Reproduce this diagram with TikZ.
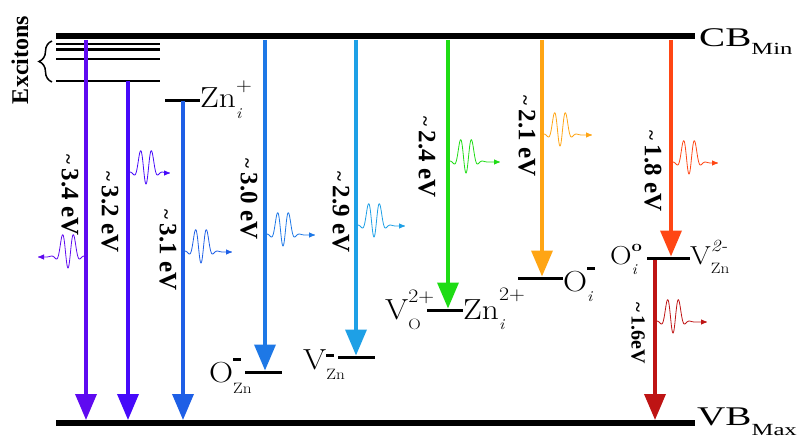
\documentclass[tikz,border=0pt]{standalone}
\usepackage{fontspec}
\usepackage{graphicx}
\newfontfamily\lbfont{Liberation Serif}
\usetikzlibrary{arrows.meta,decorations.pathreplacing}

\definecolor{c34}{RGB}{95,10,240}
\definecolor{c32}{RGB}{70,10,250}
\definecolor{c31}{RGB}{30,95,230}
\definecolor{c30}{RGB}{30,120,230}
\definecolor{c29}{RGB}{30,160,230}
\definecolor{c24}{RGB}{30,220,20}
\definecolor{c21}{RGB}{255,165,20}
\definecolor{c18}{RGB}{255,70,20}
\definecolor{c16}{RGB}{190,20,20}

\newcommand\bigf{\fontsize{29}{29}\selectfont}
\newcommand\midf{\fontsize{26}{26}\selectfont}
\newcommand\supf{\fontsize{19}{19}\selectfont}
\newcommand\subf{\fontsize{15}{15}\selectfont}
\newcommand\evf{\lbfont\bfseries\fontsize{25}{25}\selectfont}
\newcommand\tl{{\fontsize{19}{19}\selectfont\textasciitilde}\,}
\newcommand\chg{\rule{7pt}{2.6pt}}
\newlength\chemw
% base, sup, sub, sup raise, sub lower
\newcommand\chem[5]{\scalebox{1.15}[1]{#1\sbox0{#2}\sbox2{#3}%
  \setlength\chemw{\wd0}\ifdim\wd2>\chemw\setlength\chemw{\wd2}\fi
  \rlap{\raisebox{#4}{\usebox0}}\rlap{\raisebox{-#5}{\usebox2}}\hspace{\chemw}}}
\newcommand\wave[5]{%
  \draw[#3, line width=0.8pt, -{Triangle[length=6pt,width=5pt]}, shift={(#1,#2)}, xscale=#4]
    plot[domain=0:#5, samples=200, smooth] (\x,{-22*exp(-((\x-18)/9)^2)*(sin(360*(\x-9)/12)+0.5)});}

\begin{document}
\begin{tikzpicture}[x=1pt,y=-1pt,
  band/.style={line width=6pt},
  exc/.style={line width=2.2pt},
  lvl/.style={line width=3pt},
  trans/.style={line width=3.6pt,-{Triangle[length=26pt,width=21pt]}},
  elab/.style={rotate=-90,font=\evf,inner sep=0pt},
  dlab/.style={anchor=base west,inner sep=0pt,font=\bigf},
]
\useasboundingbox (0,0) rectangle (797,441);

% bands
\coordinate (cbL) at (56,36.5); \coordinate (cbR) at (695,36.5);
\coordinate (vbL) at (56,423);  \coordinate (vbR) at (695,423);
\draw[band] (cbL) -- (cbR);
\draw[band] (vbL) -- (vbR);
\node[anchor=base west,inner sep=0pt] (cb) at (699,47)
  {\scalebox{1.45}[1]{\lbfont\fontsize{27}{27}\selectfont CB\raisebox{-8pt}{\fontsize{17}{17}\selectfont Min}}};
\node[anchor=base west,inner sep=0pt] (vb) at (697,425)
  {\scalebox{1.45}[1]{\lbfont\fontsize{27}{27}\selectfont VB\raisebox{-10pt}{\fontsize{17}{17}\selectfont Max}}};

% excitons
\foreach \n/\yy in {a/44,b/49.5,c/59,d/81}{
  \coordinate (ex\n L) at (56,\yy); \coordinate (ex\n R) at (160,\yy);
  \draw[exc] (ex\n L) -- (ex\n R);
}
\coordinate (brB) at (52,82); \coordinate (brT) at (52,41);
\draw[line width=1.5pt,decorate,decoration={brace,amplitude=13pt}] (brB) -- (brT);
\node[rotate=90,font=\lbfont\bfseries\fontsize{24}{24}\selectfont,inner sep=0pt] (exl) at (20,60) {Excitons};

% defect levels
\coordinate (zL) at (165,101); \coordinate (zR) at (200,101);
\draw[lvl] (zL) -- (zR);
\node[dlab] (zn) at (200,108) {\chem{Zn}{\supf +}{\subf\itshape i}{17pt}{11pt}};

\coordinate (ozL) at (245,372); \coordinate (ozR) at (282,372);
\draw[lvl] (ozL) -- (ozR);
\node[dlab] (oz) at (209,382) {\chem{O}{\chg}{\subf Zn}{21pt}{11pt}};

\coordinate (vzL) at (338,357); \coordinate (vzR) at (375,357);
\draw[lvl] (vzL) -- (vzR);
\node[dlab] (vz) at (303,369) {\chem{V}{\chg}{\subf Zn}{12pt}{10pt}};

\coordinate (voL) at (427,310); \coordinate (voR) at (463,310);
\draw[lvl] (voL) -- (voR);
\node[dlab] (vo) at (385,319) {\chem{V}{\supf 2+}{\subf O}{17pt}{10pt}};
\node[dlab] (zn2) at (463,319) {\chem{Zn}{\supf 2+}{\subf\itshape i}{19pt}{10pt}};

\coordinate (oiL) at (518,278); \coordinate (oiR) at (563,278);
\draw[lvl] (oiL) -- (oiR);
\node[dlab] (oi) at (563,291) {\chem{O}{\chg}{\subf\itshape i}{21pt}{10pt}};

\coordinate (dpL) at (647,258); \coordinate (dpR) at (690,258);
\draw[lvl] (dpL) -- (dpR);
\node[dlab,font=\midf] (oi0) at (610,264) {\chem{O}{\fontsize{16}{16}\selectfont\bfseries o}{\subf\itshape i}{13pt}{10pt}};
\node[dlab,font=\midf] (vz2) at (690,264) {\chem{V}{\fontsize{17}{17}\selectfont\itshape 2-}{\subf Zn}{13pt}{9pt}};

% transitions
\coordinate (s1) at (86,40);   \coordinate (e1) at (86,420);
\coordinate (s2) at (128,81);  \coordinate (e2) at (128,420);
\coordinate (s3) at (183,101); \coordinate (e3) at (183,420);
\coordinate (s4) at (265,40);  \coordinate (e4) at (265,370.5);
\coordinate (s5) at (356,40);  \coordinate (e5) at (356,355.5);
\coordinate (s6) at (448,40);  \coordinate (e6) at (448,308.5);
\coordinate (s7) at (542,40);  \coordinate (e7) at (542,276.5);
\coordinate (s8) at (671,40);  \coordinate (e8) at (671,256.5);
\coordinate (s9) at (655,259.5); \coordinate (e9) at (655,420);
\draw[trans,c34] (s1) -- (e1);
\draw[trans,c32] (s2) -- (e2);
\draw[trans,c31] (s3) -- (e3);
\draw[trans,c30] (s4) -- (e4);
\draw[trans,c29] (s5) -- (e5);
\draw[trans,c24] (s6) -- (e6);
\draw[trans,c21] (s7) -- (e7);
\draw[trans,c18] (s8) -- (e8);
\draw[trans,c16] (s9) -- (e9);

% energy labels
\node[elab] (l1) at (70,195)  {\tl 3.4 eV};
\node[elab] (l2) at (110,212) {\tl 3.2 eV};
\node[elab] (l3) at (168,250) {\tl 3.1 eV};
\node[elab] (l4) at (249,199) {\tl 3.0 eV};
\node[elab] (l5) at (341,212) {\tl 2.9 eV};
\node[elab] (l6) at (427,157) {\tl 2.4 eV};
\node[elab] (l7) at (527,136) {\tl 2.1 eV};
\node[elab] (l8) at (653,171) {\tl 1.8 eV};
\node[elab,font=\lbfont\bfseries\fontsize{20}{20}\selectfont] (l9) at (638,333) {\tl 1.6eV};

% emitted photons
\wave{86}{257}{c34}{-1}{48}
\wave{128}{173}{c32}{1}{42}
\wave{183}{252}{c31}{1}{49}
\wave{265}{235}{c30}{1}{50}
\wave{356}{226}{c29}{1}{49}
\wave{448}{162}{c24}{1}{52}
\wave{542}{135}{c21}{1}{50}
\wave{671}{163}{c18}{1}{47}
\wave{655}{322}{c16}{1}{52}
\end{tikzpicture}
\end{document}
